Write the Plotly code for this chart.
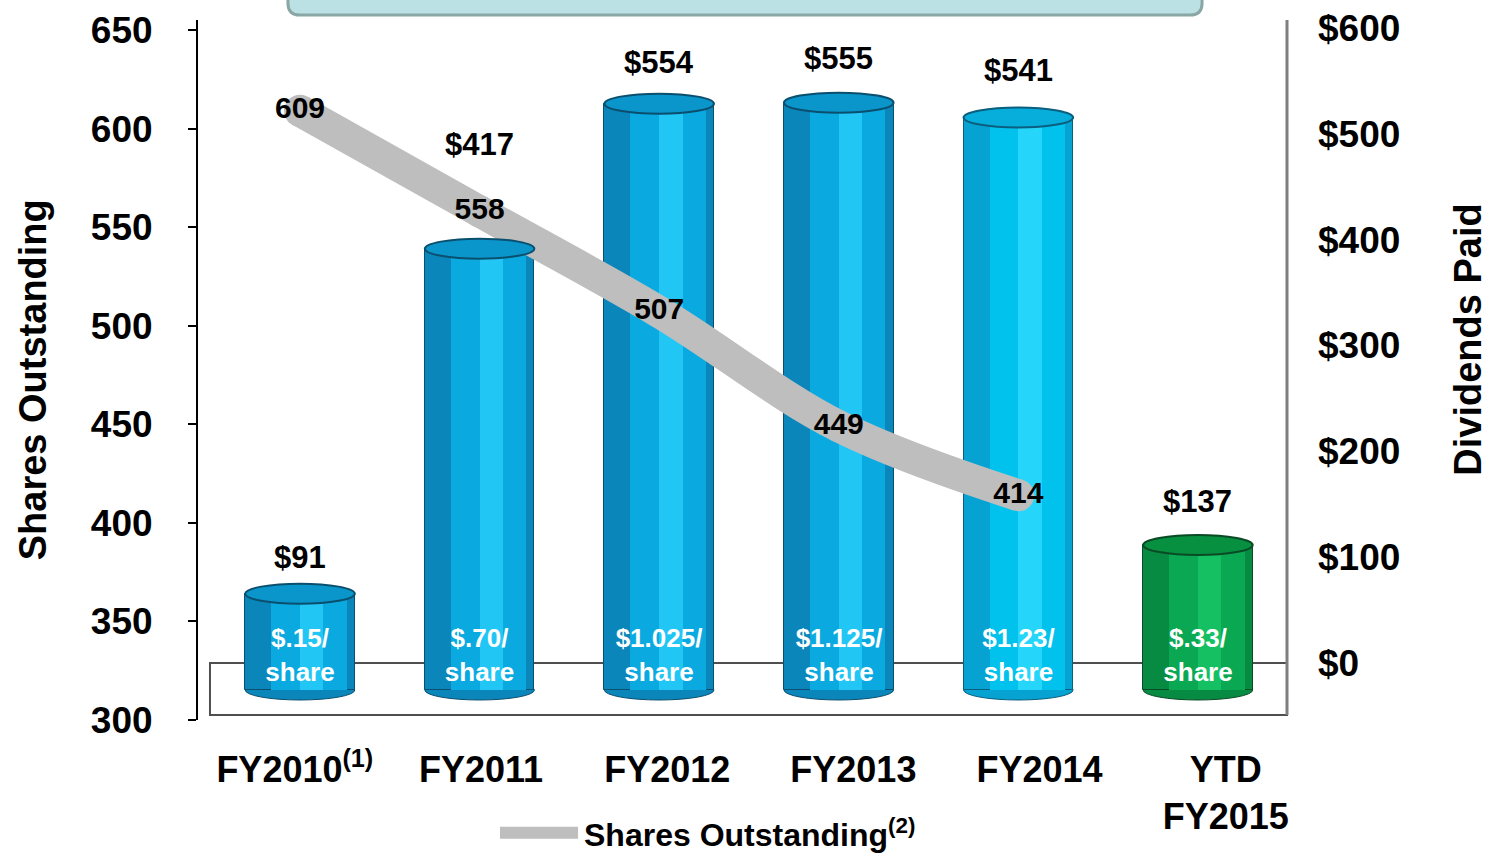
import plotly.graph_objects as go

# ---------------- data ----------------
categories = ["FY2010", "FY2011", "FY2012", "FY2013", "FY2014", "YTD FY2015"]
tick_labels = ["FY2010<sup>(1)</sup>", "FY2011", "FY2012", "FY2013", "FY2014", "YTD<br>FY2015"]
dividends = [91, 417, 554, 555, 541, 137]
dividend_labels = ["$91", "$417", "$554", "$555", "$541", "$137"]
per_share = ["$.15/", "$.70/", "$1.025/", "$1.125/", "$1.23/", "$.33/"]
share_cats = ["FY2010", "FY2011", "FY2012", "FY2013", "FY2014"]
shares = [609, 558, 507, 449, 414]
left_ticks = [300, 350, 400, 450, 500, 550, 600, 650]
right_ticks = [0, 100, 200, 300, 400, 500, 600]
right_tick_text = ["$0", "$100", "$200", "$300", "$400", "$500", "$600"]
legend_text = "Shares Outstanding<sup>(2)</sup>"

# ---------------- styles ----------------
FONT = "Liberation Sans, Arial, sans-serif"
base_cols = ["#0A86BB", "#0A86BB", "#0A86BB", "#0A86BB", "#05A2D2", "#078A42"]
mid_cols = ["#0AAAE0", "#0AAAE0", "#0AAAE0", "#0AAAE0", "#00C2EC", "#0AA852"]
hi_cols = ["#22C6F4", "#22C6F4", "#22C6F4", "#22C6F4", "#25D6FA", "#14C062"]
top_cols = ["#0A95CB", "#0A95CB", "#0A95CB", "#0A95CB", "#07AEDC", "#07903F"]
edge_cols = ["#0B4F6E", "#0B4F6E", "#0B4F6E", "#0B4F6E", "#0B5F7E", "#0A4A25"]
label_shift = [36, 104, 41, 44, 47, 44]
BAR_W = 0.61
ELL_H = 9.45
LINE_GRAY = "#BEBEBE"

fig = go.Figure()
idx = list(range(len(categories)))

# dummy traces carrying the main subplot (x, y) and the category label axis (x2)
fig.add_trace(go.Scatter(x=[categories[0]], y=[None], xaxis="x", yaxis="y",
                         mode="markers", showlegend=False, hoverinfo="skip"))
fig.add_trace(go.Scatter(x=categories, y=[None] * len(categories), xaxis="x2", yaxis="y",
                         mode="markers", showlegend=False, hoverinfo="skip"))

# cylinder body layers
fig.add_trace(go.Bar(x=categories, y=dividends, width=BAR_W, xaxis="x", yaxis="y2",
                     marker=dict(color=base_cols, line=dict(color=edge_cols, width=1)),
                     showlegend=False, hoverinfo="skip"))
fig.add_trace(go.Bar(x=categories, y=dividends, width=0.42, offset=-0.16, xaxis="x", yaxis="y2",
                     marker=dict(color=mid_cols, line=dict(width=0)),
                     showlegend=False, hoverinfo="skip"))
fig.add_trace(go.Bar(x=categories, y=dividends, width=0.13, offset=0.0, xaxis="x", yaxis="y2",
                     marker=dict(color=hi_cols, line=dict(width=0)),
                     showlegend=False, hoverinfo="skip"))
# text inside cylinders
fig.add_trace(go.Bar(x=categories, y=dividends, width=BAR_W, xaxis="x", yaxis="y2",
                     marker=dict(color="rgba(0,0,0,0)", line=dict(width=0)),
                     text=[p + "<br>share" for p in per_share],
                     textposition="inside", insidetextanchor="start",
                     textfont=dict(color="white", size=26, family=FONT, weight="bold"),
                     showlegend=False, hoverinfo="skip"))

# dummy trace for the right dividend axis labels
fig.add_trace(go.Scatter(x=[categories[0]], y=[None], xaxis="x", yaxis="y3",
                         mode="markers", showlegend=False, hoverinfo="skip"))

# shares outstanding line, drawn on top
fig.add_trace(go.Scatter(x=share_cats, y=shares, xaxis="x", yaxis="y4", mode="lines",
                         line=dict(color=LINE_GRAY, width=32, shape="spline", smoothing=1.0),
                         name=legend_text, showlegend=False, hoverinfo="skip"))
fig.add_trace(go.Scatter(x=share_cats, y=shares, xaxis="x", yaxis="y4", mode="markers+text",
                         marker=dict(color=LINE_GRAY, size=32, line=dict(width=0)),
                         text=[str(s) for s in shares], textposition="middle center",
                         textfont=dict(color="black", size=30, family=FONT, weight="bold"),
                         showlegend=False, hoverinfo="skip"))

shapes = []
# top header box (cut off)
x0, x1, yb, yt = 0.0826, 0.922, 1.0071, 1.08
rx, ry = 0.011, 0.017
shapes.append(dict(type="path", xref="paper", yref="paper",
                   path=f"M {x0},{yt} L {x0},{yb+ry} Q {x0},{yb} {x0+rx},{yb} L {x1-rx},{yb} Q {x1},{yb} {x1},{yb+ry} L {x1},{yt} Z",
                   fillcolor="#BCE1E4", line=dict(color="#8AA7A6", width=3), layer="above"))
# floor of the 3D chart
shapes.append(dict(type="rect", xref="paper", yref="y3", x0=0.011, x1=1.0, y0=-49.1, y1=0,
                   line=dict(color="#4F4F4F", width=2), fillcolor="rgba(0,0,0,0)", layer="below"))
# right wall edge
shapes.append(dict(type="line", xref="paper", yref="paper", x0=1.0, x1=1.0, y0=0.0071, y1=1.0,
                   line=dict(color="#7F7F7F", width=3), layer="below"))
# cylinder bottoms and tops
for i, v in zip(idx, dividends):
    shapes.append(dict(type="circle", xref="x", yref="y2", x0=i - BAR_W / 2, x1=i + BAR_W / 2,
                       y0=-ELL_H, y1=ELL_H, fillcolor=base_cols[i],
                       line=dict(color=edge_cols[i], width=1), layer="below"))
    shapes.append(dict(type="circle", xref="x", yref="y2", x0=i - BAR_W / 2, x1=i + BAR_W / 2,
                       y0=v - ELL_H, y1=v + ELL_H, fillcolor=top_cols[i],
                       line=dict(color=edge_cols[i], width=2), layer="above"))
# legend line sample
shapes.append(dict(type="line", xref="paper", yref="paper", x0=0.2773, x1=0.349, y0=-0.161, y1=-0.161,
                   line=dict(color=LINE_GRAY, width=12)))

annotations = []
for i, (c, v, t) in enumerate(zip(categories, dividends, dividend_labels)):
    annotations.append(dict(x=c, y=v, xref="x", yref="y2", text=t, showarrow=False,
                            yshift=label_shift[i],
                            font=dict(size=31, color="black", family=FONT, weight="bold")))
annotations.append(dict(x=-0.152, y=0.486, xref="paper", yref="paper", text="Shares Outstanding",
                        textangle=-90, showarrow=False, xanchor="center", yanchor="middle",
                        font=dict(size=38, color="black", family=FONT, weight="bold")))
annotations.append(dict(x=1.166, y=0.543, xref="paper", yref="paper", text="Dividends Paid",
                        textangle=-90, showarrow=False, xanchor="center", yanchor="middle",
                        font=dict(size=38, color="black", family=FONT, weight="bold")))
annotations.append(dict(x=0.3535, y=-0.161, xref="paper", yref="paper", text=legend_text,
                        xanchor="left", yanchor="middle", showarrow=False, borderpad=0,
                        font=dict(size=32, color="black", family=FONT, weight="bold")))

tickfont = dict(size=37, color="black", family=FONT, weight="bold")

fig.update_layout(
    template="none",
    width=1489, height=853,
    margin=dict(l=198, r=202, t=20, b=133, autoexpand=False),
    paper_bgcolor="white", plot_bgcolor="white",
    barmode="overlay", bargap=0,
    showlegend=False,
    xaxis=dict(type="category", categoryorder="array", categoryarray=categories,
               range=[-0.568, 5.496], showticklabels=False, showline=False,
               showgrid=False, zeroline=False, ticks="", automargin=False),
    xaxis2=dict(type="category", categoryorder="array", categoryarray=categories,
                overlaying="x", anchor="y", side="bottom",
                range=[-0.52, 5.329], tickmode="array", tickvals=categories, ticktext=tick_labels,
                showline=False, showgrid=False, zeroline=False, ticks="", automargin=False,
                ticklabelstandoff=25, tickfont=dict(size=36, color="black", family=FONT, weight="bold")),
    yaxis=dict(range=[300, 655.07], tickmode="array", tickvals=left_ticks,
               showline=True, linecolor="black", linewidth=2,
               ticks="outside", ticklen=8, tickwidth=2, tickcolor="black",
               ticklabelstandoff=28, showgrid=False, zeroline=False, automargin=False,
               tickfont=tickfont),
    yaxis2=dict(range=[-28.35, 633.1], overlaying="y", side="right", visible=False,
                showgrid=False, zeroline=False, automargin=False),
    yaxis3=dict(range=[-53.86, 607.57], overlaying="y", side="right", anchor="x",
                tickmode="array", tickvals=right_ticks, ticktext=right_tick_text,
                showline=False, ticks="", ticklabelstandoff=30, automargin=False,
                showgrid=False, zeroline=False, tickfont=tickfont),
    yaxis4=dict(range=[300, 655.07], overlaying="y", side="left", visible=False,
                showgrid=False, zeroline=False, automargin=False),
    shapes=shapes,
    annotations=annotations,
)

fig.write_html("out.html", config={"displayModeBar": False},
               post_script="document.body.style.margin='0';document.body.style.overflow='hidden';")
